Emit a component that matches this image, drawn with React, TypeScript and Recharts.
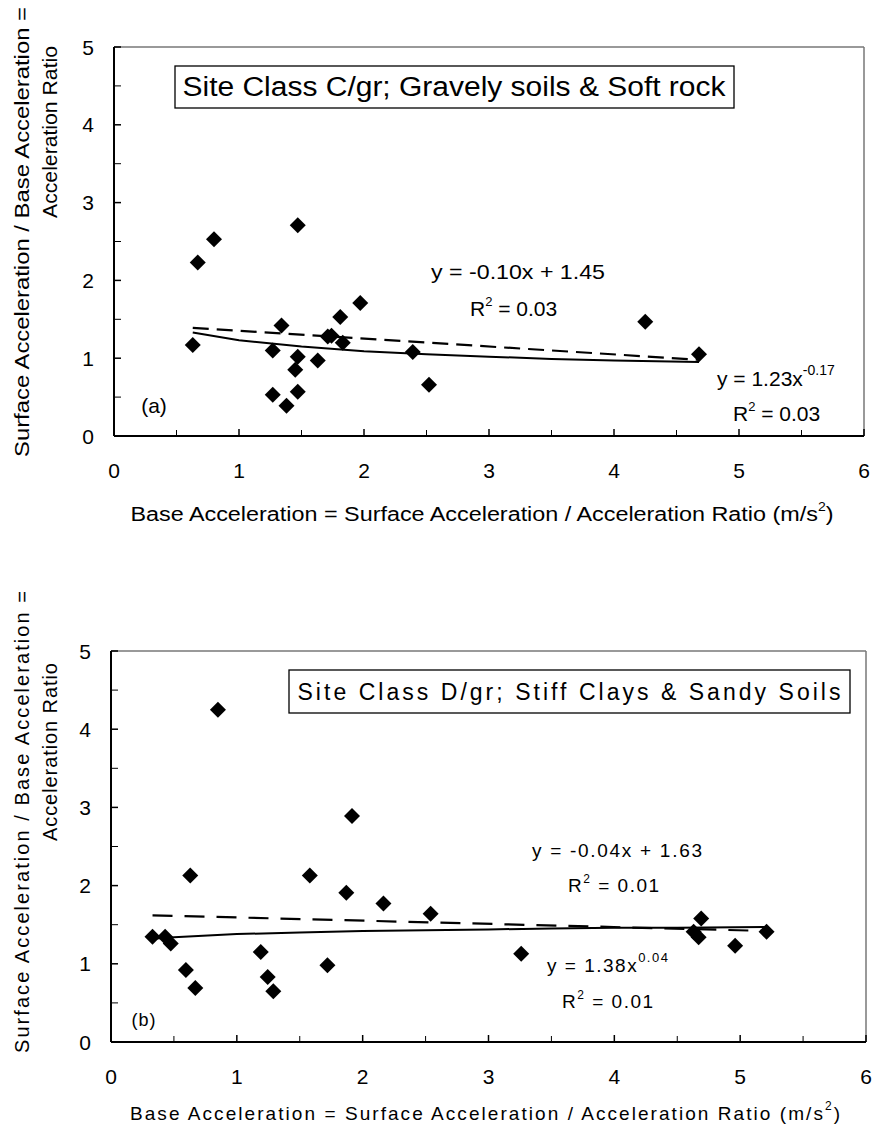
import React from 'react';
import { ScatterChart, Scatter, XAxis, YAxis, ReferenceLine } from 'recharts';

const FONT = '"Liberation Sans", Arial, Helvetica, sans-serif';

// ---------- Data: panel (a) Site Class C/gr ----------
const aX = [0.63, 0.67, 0.8, 1.47, 1.34, 1.27, 1.47, 1.45, 1.47, 1.27, 1.38, 1.63, 1.71, 1.74, 1.83, 1.81, 1.97, 2.39, 2.52, 4.25, 4.68];
const aY = [1.17, 2.23, 2.53, 2.71, 1.42, 1.1, 1.02, 0.85, 0.57, 0.53, 0.39, 0.97, 1.28, 1.29, 1.2, 1.53, 1.71, 1.08, 0.66, 1.47, 1.05];
const aLinX = [0.63, 4.68];
const aLinY = [1.39, 0.98];
const aPowX = [0.63, 1.0, 1.5, 2.0, 2.5, 3.0, 3.5, 4.0, 4.68];
const aPowY = [1.33, 1.23, 1.15, 1.09, 1.05, 1.02, 0.99, 0.97, 0.95];

// ---------- Data: panel (b) Site Class D/gr ----------
const bX = [0.33, 0.43, 0.475, 0.595, 0.67, 0.63, 0.85, 1.19, 1.245, 1.29, 1.58, 1.72, 1.87, 1.915, 2.165, 2.54, 3.26, 4.69, 4.63, 4.67, 4.96, 5.21];
const bY = [1.345, 1.345, 1.26, 0.92, 0.69, 2.13, 4.25, 1.15, 0.83, 0.65, 2.13, 0.98, 1.91, 2.89, 1.77, 1.64, 1.13, 1.58, 1.41, 1.34, 1.23, 1.41];
const bLinX = [0.33, 5.21];
const bLinY = [1.62, 1.42];
const bPowX = [0.33, 0.5, 1.0, 1.5, 2.0, 2.5, 3.0, 3.5, 4.0, 4.5, 5.21];
const bPowY = [1.32, 1.34, 1.38, 1.4, 1.42, 1.43, 1.44, 1.45, 1.46, 1.46, 1.47];

// ---------- Axis ticks ----------
const xTicks = [0, 0.5, 1, 1.5, 2, 2.5, 3, 3.5, 4, 4.5, 5, 5.5, 6];
const yTicks = [0, 0.5, 1, 1.5, 2, 2.5, 3, 3.5, 4, 4.5, 5];

const toPts = (xs: number[], ys: number[]) => xs.map((x, i) => ({ x, y: ys[i] }));

function Diamond(props: any) {
  const { cx, cy } = props;
  if (cx == null || cy == null) return null;
  const r = 8;
  return <polygon points={`${cx},${cy - r} ${cx + r},${cy} ${cx},${cy + r} ${cx - r},${cy}`} fill="#000" />;
}
const NoShape = () => <g />;

function makeXTick(offset: number, ls: number) {
  return (props: any) => {
    const { x, y, payload } = props;
    const v = payload.value;
    const major = Math.abs(v - Math.round(v)) < 1e-9;
    return (
      <g>
        <line x1={x} x2={x} y1={y} y2={y - (major ? 7 : 6)} stroke="#000" strokeWidth={major ? 1.5 : 1} />
        {major && (
          <text x={x} y={y + offset} textAnchor="middle" dominantBaseline="central" fontSize={21} fontFamily={FONT} fill="#000" letterSpacing={ls}>
            {v}
          </text>
        )}
      </g>
    );
  };
}
function makeYTick(offset: number) {
  return (props: any) => {
    const { x, y, payload } = props;
    const v = payload.value;
    const major = Math.abs(v - Math.round(v)) < 1e-9;
    return (
      <g>
        <line x1={x} x2={x + 7} y1={y} y2={y} stroke="#000" strokeWidth={major ? 1.5 : 1} />
        {major && (
          <text x={x - offset} y={y} textAnchor="middle" dominantBaseline="central" fontSize={21} fontFamily={FONT} fill="#000">
            {v}
          </text>
        )}
      </g>
    );
  };
}

type PanelProps = {
  top: number;
  height: number;
  margin: { top: number; right: number; bottom: number; left: number };
  yWidth: number;
  pts: { x: number; y: number }[];
  lin: { x: number; y: number }[];
  pow: { x: number; y: number }[];
  dash: string;
  xOffset: number;
  ls: number;
};

function Panel(p: PanelProps) {
  return (
    <div style={{ position: 'absolute', left: 0, top: p.top }}>
      <ScatterChart width={872} height={p.height} margin={p.margin}>
        <XAxis
          type="number"
          dataKey="x"
          domain={[0, 6]}
          ticks={xTicks}
          interval={0}
          height={60}
          tickSize={0}
          tickMargin={0}
          tickLine={false}
          axisLine={{ stroke: '#000', strokeWidth: 2 }}
          tick={makeXTick(p.xOffset, p.ls)}
          allowDataOverflow
        />
        <YAxis
          type="number"
          dataKey="y"
          domain={[0, 5]}
          ticks={yTicks}
          interval={0}
          width={p.yWidth}
          tickSize={0}
          tickMargin={0}
          tickLine={false}
          axisLine={{ stroke: '#000', strokeWidth: 2 }}
          tick={makeYTick(26)}
          allowDataOverflow
        />
        <ReferenceLine y={5} stroke="#777" strokeWidth={1.5} />
        <ReferenceLine x={6} stroke="#777" strokeWidth={1.5} />
        <Scatter data={p.pts} shape={Diamond} isAnimationActive={false} />
        <Scatter data={p.lin} shape={NoShape} line={{ stroke: '#000', strokeWidth: 2.2, strokeDasharray: p.dash }} isAnimationActive={false} />
        <Scatter data={p.pow} shape={NoShape} line={{ stroke: '#000', strokeWidth: 2 }} isAnimationActive={false} />
      </ScatterChart>
    </div>
  );
}

const T = (props: any) => <text fontFamily={FONT} fill="#000" {...props} />;

export default function App() {
  return (
    <div style={{ position: 'absolute', left: 0, top: 0, width: 872, height: 1133, background: '#fff', fontFamily: FONT }}>
      <Panel
        top={0}
        height={540}
        margin={{ top: 47, right: 8, bottom: 44, left: 0 }}
        yWidth={114}
        pts={toPts(aX, aY)}
        lin={toPts(aLinX, aLinY)}
        pow={toPts(aPowX, aPowY)}
        dash="16 8"
        xOffset={34}
        ls={0}
      />
      <Panel
        top={560}
        height={573}
        margin={{ top: 91, right: 6, bottom: 31, left: 0 }}
        yWidth={111}
        pts={toPts(bX, bY)}
        lin={toPts(bLinX, bLinY)}
        pow={toPts(bPowX, bPowY)}
        dash="20 12"
        xOffset={34}
        ls={0}
      />
      <svg width={872} height={1133} style={{ position: 'absolute', left: 0, top: 0, pointerEvents: 'none' }}>
        {/* Panel (a) annotations */}
        <rect x={175} y={66} width={559} height={42} fill="#fff" stroke="#000" strokeWidth={1.3} />
        <T x={454} y={96} fontSize={27} textAnchor="middle" textLength={543} lengthAdjust="spacingAndGlyphs">
          Site Class C/gr; Gravely soils &amp; Soft rock
        </T>
        <T x={518} y={279} fontSize={21} textAnchor="middle" textLength={174} lengthAdjust="spacingAndGlyphs">y = -0.10x + 1.45</T>
        <T x={470} y={316} fontSize={21}>
          R<tspan fontSize={13} dy={-10}>2</tspan><tspan dy={10}> = 0.03</tspan>
        </T>
        <T x={717} y={386} fontSize={21}>
          y = 1.23x<tspan fontSize={14} dy={-11}>-0.17</tspan>
        </T>
        <T x={733} y={421} fontSize={21}>
          R<tspan fontSize={13} dy={-10}>2</tspan><tspan dy={10}> = 0.03</tspan>
        </T>
        <T x={154} y={413} fontSize={21} textAnchor="middle">(a)</T>
        <T x={482} y={521} fontSize={20} textAnchor="middle" textLength={703} lengthAdjust="spacingAndGlyphs">
          Base Acceleration = Surface Acceleration / Acceleration Ratio (m/s<tspan fontSize={12} dy={-10}>2</tspan><tspan dy={10}>)</tspan>
        </T>
        <T x={0} y={0} fontSize={21} textAnchor="middle" transform="translate(29,232) rotate(-90)" textLength={450} lengthAdjust="spacingAndGlyphs">
          Surface Acceleration / Base Acceleration =
        </T>
        <T x={0} y={0} fontSize={21} textAnchor="middle" transform="translate(57,132) rotate(-90)" textLength={172} lengthAdjust="spacingAndGlyphs">
          Acceleration Ratio
        </T>

        {/* Panel (b) annotations */}
        <rect x={289} y={670} width={561} height={43} fill="#fff" stroke="#000" strokeWidth={1.3} />
        <T x={569} y={700} fontSize={23} textAnchor="middle" textLength={543} lengthAdjust="spacing">
          Site Class D/gr; Stiff Clays &amp; Sandy Soils
        </T>
        <T x={617} y={857} fontSize={19} textAnchor="middle" textLength={170} lengthAdjust="spacing">y = -0.04x + 1.63</T>
        <T x={568} y={892} fontSize={19} letterSpacing={1.5}>
          R<tspan fontSize={12} dy={-9}>2</tspan><tspan dy={9}> = 0.01</tspan>
        </T>
        <T x={547} y={972} fontSize={19} letterSpacing={1.5}>
          y = 1.38x<tspan fontSize={13} dy={-10}>0.04</tspan>
        </T>
        <T x={562} y={1008} fontSize={19} letterSpacing={1.5}>
          R<tspan fontSize={12} dy={-9}>2</tspan><tspan dy={9}> = 0.01</tspan>
        </T>
        <T x={144} y={1026} fontSize={18} textAnchor="middle" letterSpacing={1}>(b)</T>
        <T x={485} y={1120} fontSize={19} textAnchor="middle" textLength={710} lengthAdjust="spacing">
          Base Acceleration = Surface Acceleration / Acceleration Ratio (m/s<tspan fontSize={12} dy={-10}>2</tspan><tspan dy={10}>)</tspan>
        </T>
        <T x={0} y={0} fontSize={20} textAnchor="middle" transform="translate(29,822) rotate(-90)" textLength={462} lengthAdjust="spacing">
          Surface Acceleration / Base Acceleration =
        </T>
        <T x={0} y={0} fontSize={20} textAnchor="middle" transform="translate(57,752) rotate(-90)" textLength={178} lengthAdjust="spacing">
          Acceleration Ratio
        </T>
      </svg>
    </div>
  );
}
